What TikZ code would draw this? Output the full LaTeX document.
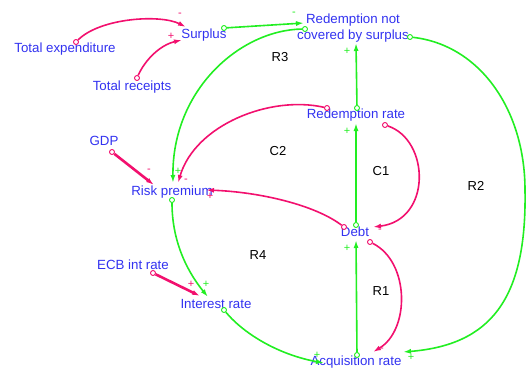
\documentclass[tikz,border=0pt]{standalone}
\usepackage{fontspec}
\setmainfont{Liberation Sans}
\usetikzlibrary{arrows.meta}
\definecolor{pk}{HTML}{F2106E}
\definecolor{gr}{HTML}{22EE22}
\definecolor{tb}{HTML}{3232F0}
\tikzset{
  var/.style={text=tb, font=\fontsize{13.3}{16}\selectfont, inner sep=0pt, align=center},
  loopl/.style={text=black, font=\fontsize{13}{15}\selectfont, inner sep=0pt},
  psign/.style={text=pk, font=\fontsize{11}{12}\selectfont, inner sep=0pt},
  gsign/.style={text=gr, font=\fontsize{11}{12}\selectfont, inner sep=0pt},
  pdot/.style={circle, draw=pk, fill=white, line width=0.9pt, minimum size=5pt, inner sep=0pt},
  gdot/.style={circle, draw=gr, fill=white, line width=0.9pt, minimum size=5pt, inner sep=0pt},
  plink/.style={draw=pk, line width=1.6pt, -{Latex[length=8pt,width=5pt]}},
  glink/.style={draw=gr, line width=1.6pt, -{Latex[length=8pt,width=5pt]}},
  pthick/.style={plink, line width=2.6pt},
}
\begin{document}
\begin{tikzpicture}[x=1pt,y=-1pt]
\useasboundingbox (0,0) rectangle (528,369);
% variables
\node[var] (texp) at (65,49) {Total expenditure};
\node[var] (surp) at (204,35) {Surplus};
\node[var] (trec) at (132,87) {Total receipts};
\node[var] (rnc) at (353,28) {Redemption not\\covered by surplus};
\node[var] (rr) at (356,115) {Redemption rate};
\node[var] (gdp) at (104,141) {GDP};
\node[var] (rp) at (172,192) {Risk premium};
\node[var] (debt) at (355,232) {Debt};
\node[var] (ecb) at (133,265) {ECB int rate};
\node[var] (ir) at (216,304) {Interest rate};
\node[var] (acq) at (356,362) {Acquisition rate};
% loop labels
\node[loopl] (R3) at (280,57) {R3};
\node[loopl] (C2) at (278,151) {C2};
\node[loopl] (C1) at (381,171) {C1};
\node[loopl] (R2) at (476,186) {R2};
\node[loopl] (R4) at (258,255) {R4};
\node[loopl] (R1) at (381,291) {R1};
% source dots
\node[pdot] (d1) at (76,42) {};
\node[pdot] (d2) at (137,78) {};
\node[gdot] (d3) at (224,28) {};
\node[gdot] (d4) at (357,108) {};
\node[gdot] (d5) at (305,29) {};
\node[gdot] (d6) at (410,37) {};
\node[pdot] (d7) at (327,108) {};
\node[pdot] (d8) at (344,227) {};
\node[pdot] (d9) at (112,152) {};
\node[gdot] (d10) at (172,200) {};
\node[pdot] (d11) at (153,273) {};
\node[gdot] (d12) at (224,310) {};
\node[gdot] (d13) at (357,355) {};
\node[gdot] (d14) at (356,225) {};
\node[pdot] (d15) at (385,125) {};
\node[pdot] (d16) at (370,242) {};
% arrow targets
\coordinate (t1) at (186,27);
\coordinate (t2) at (182,40);
\coordinate (t3) at (304,23);
\coordinate (t4) at (356,43);
\coordinate (t5) at (173,183);
\coordinate (t6) at (403,352);
\coordinate (t7) at (178,183);
\coordinate (t8) at (206,190);
\coordinate (t9) at (154,185);
\coordinate (t10) at (208,297);
\coordinate (t11) at (200,296);
\coordinate (t12) at (324,363);
\coordinate (t13) at (356,240);
\coordinate (t14) at (356,123);
\coordinate (t15) at (373,227);
\coordinate (t16) at (373,352);
% links
\draw[plink] (d1) .. controls (100,18) and (160,14) .. (t1);
\draw[plink] (d2) .. controls (145,60) and (160,45) .. (t2);
\draw[glink] (d3) -- (t3);
\draw[glink] (d4) -- (t4);
\draw[glink] (d5) .. controls (240,30) and (172,90) .. (t5);
\draw[glink] (d6) .. controls (480,45) and (525,110) .. (525,190) .. controls (527,300) and (490,345) .. (t6);
\draw[plink] (d7) .. controls (270,95) and (195,125) .. (t7);
\draw[plink] (d8) .. controls (315,205) and (260,192) .. (t8);
\draw[pthick] (d9) -- (t9);
\draw[glink] (d10) .. controls (172,245) and (190,275) .. (t10);
\draw[pthick] (d11) -- (t11);
\draw[glink] (d12) .. controls (245,335) and (280,355) .. (t12);
\draw[glink] (d13) -- (t13);
\draw[glink] (d14) -- (t14);
\draw[plink] (d15) .. controls (430,140) and (432,220) .. (t15);
\draw[plink] (d16) .. controls (410,262) and (410,330) .. (t16);
% polarity signs
\node[psign] (s1) at (180,15) {-};
\node[psign] (s2) at (171,36) {+};
\node[gsign] (s3) at (294,14) {-};
\node[gsign] (s4) at (347,51) {+};
\node[gsign] (s5) at (178,171) {+};
\node[gsign] (s6) at (411,357) {+};
\node[psign] (s7) at (186,181) {-};
\node[psign] (s8) at (210,196) {+};
\node[psign] (s9) at (149,171) {-};
\node[gsign] (s10) at (206,284) {+};
\node[psign] (s11) at (191,284) {+};
\node[gsign] (s12) at (317,355) {+};
\node[gsign] (s13) at (347,248) {+};
\node[gsign] (s14) at (347,131) {+};
\node[psign] (s15) at (380,231) {-};
\node[psign] (s16) at (382,350) {-};
\end{tikzpicture}
\end{document}
